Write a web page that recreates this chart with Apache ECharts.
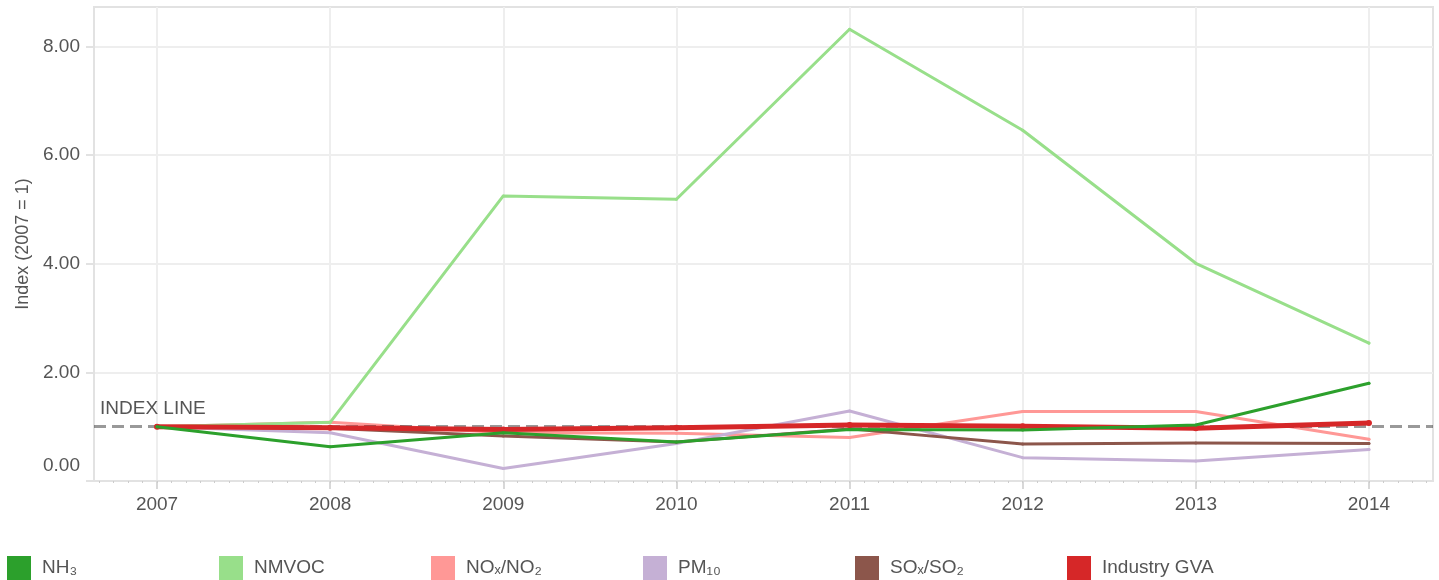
<!DOCTYPE html>
<html>
<head>
<meta charset="utf-8">
<title>Index (2007 = 1)</title>
<script src="https://cdn.jsdelivr.net/npm/echarts@6/dist/echarts.min.js"></script>
<style>
    html, body { margin: 0; padding: 0; background: #fff; }
    #chart { width: 1439px; height: 580px; }
</style>
</head>
<body>
<div id="chart"></div>
<script>
// years on the x axis
var years = [2007, 2008, 2009, 2010, 2011, 2012, 2013, 2014];
var yTicks = [0, 2, 4, 6, 8];

// index values
var nh3      = [1.00, 0.63, 0.89, 0.72, 0.95, 0.94, 1.03, 1.80];
var nmvoc    = [1.00, 1.08, 5.25, 5.19, 8.32, 6.46, 4.01, 2.54];
var nox      = [1.00, 1.08, 0.89, 0.88, 0.80, 1.28, 1.28, 0.77];
var pm10     = [1.00, 0.89, 0.23, 0.69, 1.29, 0.43, 0.37, 0.58];
var sox      = [1.00, 0.97, 0.83, 0.72, 0.96, 0.68, 0.70, 0.69];
var industry = [1.00, 0.98, 0.95, 0.98, 1.03, 1.01, 0.97, 1.07];

var legendNames = ['NH₃', 'NMVOC', 'NOₓ/NO₂', 'PM₁₀', 'SOₓ/SO₂', 'Industry GVA'];

function pairs(vals) {
    var out = [];
    for (var i = 0; i < years.length; i++) {
        out.push([years[i], vals[i]]);
    }
    return out;
}

// monthly minor ticks between the years
var monthTicks = [];
for (var y = 2006; y <= 2014; y++) {
    for (var m = 0; m < 12; m++) {
        monthTicks.push(y + m / 12);
    }
}

var textColor = '#555';
var fontSize = 19;
var fontFamily = '"Liberation Sans", Arial, sans-serif';

function lineSeries(name, vals, color, width, z) {
    return {
        name: name,
        type: 'line',
        data: pairs(vals),
        z: z,
        symbol: 'circle',
        symbolSize: 3,
        showSymbol: true,
        itemStyle: { color: color },
        lineStyle: { color: color, width: width, cap: 'round', join: 'round' },
        emphasis: { disabled: true }
    };
}

// one legend box per item so they sit on an even 212px pitch
var legends = [];
for (var i = 0; i < legendNames.length; i++) {
    legends.push({
        data: [legendNames[i]],
        left: 7 + 212 * i,
        top: 556,
        padding: 0,
        icon: 'rect',
        itemWidth: 24,
        itemHeight: 24,
        textStyle: {
            color: textColor,
            fontSize: fontSize,
            fontFamily: fontFamily,
            padding: [0, 0, 0, 6]
        }
    });
}

var chart = echarts.init(document.getElementById('chart'));

var gva = lineSeries('Industry GVA', industry, '#d62728', 5, 5);
gva.symbolSize = 6;

var nh3Series = lineSeries('NH₃', nh3, '#2ca02c', 3, 6);
nh3Series.markLine = {
    silent: true,
    symbol: 'none',
    lineStyle: { color: 'rgba(0,0,0,0.4)', width: 3, type: [12, 6] },
    label: {
        show: true,
        position: 'insideStartTop',
        formatter: 'INDEX LINE',
        color: textColor,
        fontSize: fontSize,
        fontFamily: fontFamily,
        distance: [6, 8]
    },
    data: [{ yAxis: 1 }]
};

var option = {
    animation: false,
    backgroundColor: '#fff',
    textStyle: { fontFamily: fontFamily },
    grid: {
        left: 94,
        right: 6,
        top: 7,
        bottom: 99,
        show: true,
        borderColor: '#e2e2e2',
        borderWidth: 2
    },
    legend: legends,
    xAxis: [{
        type: 'value',
        min: 2006.636,
        max: 2014.37,
        axisLine: { show: true, lineStyle: { color: '#e2e2e2', width: 2 } },
        axisTick: { show: true, customValues: years, length: 8, lineStyle: { color: '#d8d8d8', width: 2 } },
        axisLabel: {
            customValues: years,
            margin: 14,
            color: textColor,
            fontSize: fontSize,
            formatter: function (v) { return String(v); }
        },
        splitLine: { show: true, lineStyle: { color: '#eeeeee', width: 2 } }
    }, {
        type: 'value',
        min: 2006.636,
        max: 2014.37,
        position: 'bottom',
        axisLine: { show: false },
        axisLabel: { show: false },
        splitLine: { show: false },
        axisTick: { show: true, customValues: monthTicks, length: 2, lineStyle: { color: '#cccccc', width: 1 } }
    }],
    yAxis: {
        type: 'value',
        min: 0,
        max: 8.73,
        name: 'Index (2007 = 1)',
        nameLocation: 'middle',
        nameGap: 56,
        nameTextStyle: { color: textColor, fontSize: 18 },
        axisLine: { show: true, lineStyle: { color: '#e2e2e2', width: 2 } },
        axisTick: { show: true, customValues: yTicks, length: 8, lineStyle: { color: '#e2e2e2', width: 2 } },
        axisLabel: {
            customValues: yTicks,
            margin: 14,
            color: textColor,
            fontSize: fontSize,
            formatter: function (v) {
                return v === 0 ? '{z|0.00}' : v.toFixed(2);
            },
            rich: {
                z: { fontSize: fontSize, color: textColor, padding: [0, 0, 30, 0] }
            }
        },
        splitLine: { show: true, lineStyle: { color: '#eeeeee', width: 2 } }
    },
    series: [
        lineSeries('NOₓ/NO₂', nox, '#ff9896', 3, 1),
        lineSeries('PM₁₀', pm10, '#c5b0d5', 3, 2),
        lineSeries('SOₓ/SO₂', sox, '#8c564b', 3, 3),
        lineSeries('NMVOC', nmvoc, '#98df8a', 3, 4),
        gva,
        nh3Series
    ]
};

chart.setOption(option);
</script>
</body>
</html>
